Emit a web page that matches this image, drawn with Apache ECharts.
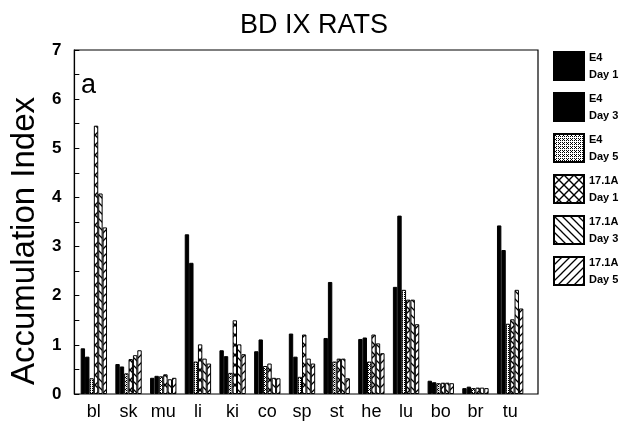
<!DOCTYPE html>
<html>
<head>
<meta charset="utf-8">
<script src="https://cdn.jsdelivr.net/npm/echarts@6/dist/echarts.min.js"></script>
<style>
  html, body { margin: 0; padding: 0; background: #fff; }
  #chart { width: 623px; height: 426px; }
</style>
</head>
<body>
<div id="chart"></div>
<script>
// organs on the x axis
var organs = ['bl', 'sk', 'mu', 'li', 'ki', 'co', 'sp', 'st', 'he', 'lu', 'bo', 'br', 'tu'];

// accumulation index per organ, one array per antibody / day
var e4Day1 = [0.93, 0.61, 0.33, 3.25, 0.89, 0.87, 1.23, 1.14, 1.12, 2.18, 0.27, 0.12, 3.43];
var e4Day3 = [0.76, 0.56, 0.37, 2.67, 0.77, 1.11, 0.76, 2.28, 1.15, 3.63, 0.24, 0.15, 2.93];
var e4Day5 = [0.32, 0.42, 0.36, 0.66, 0.43, 0.57, 0.35, 0.66, 0.66, 2.12, 0.22, 0.12, 1.43];
var a171Day1 = [5.46, 0.71, 0.40, 1.01, 1.50, 0.62, 1.21, 0.72, 1.21, 1.92, 0.23, 0.13, 1.52];
var a171Day3 = [4.08, 0.79, 0.30, 0.72, 1.01, 0.33, 0.72, 0.72, 1.03, 1.92, 0.23, 0.13, 2.12];
var a171Day5 = [3.39, 0.89, 0.33, 0.62, 0.81, 0.32, 0.62, 0.32, 0.83, 1.42, 0.22, 0.12, 1.74];

var seriesNames = ['E4 Day 1', 'E4 Day 3', 'E4 Day 5', '17.1A Day 1', '17.1A Day 3', '17.1A Day 5'];
var yTicks = [0, 1, 2, 3, 4, 5, 6, 7];

// small canvases used as fill patterns
function makePattern(size, draw) {
    var c = document.createElement('canvas');
    c.width = size;
    c.height = size;
    var ctx = c.getContext('2d');
    ctx.fillStyle = '#fff';
    ctx.fillRect(0, 0, size, size);
    ctx.strokeStyle = '#000';
    ctx.fillStyle = '#000';
    draw(ctx, size);
    return { image: c, repeat: 'repeat' };
}

var stipple = makePattern(4, function (ctx) {
    ctx.fillRect(0, 0, 1, 1);
    ctx.fillRect(2, 2, 1, 1);
    ctx.fillRect(2, 0, 1, 1);
    ctx.fillRect(0, 2, 1, 1);
    ctx.fillRect(1, 1, 1, 1);
});
var crossHatch = makePattern(10, function (ctx, s) {
    ctx.lineWidth = 1.4;
    ctx.beginPath();
    ctx.moveTo(0, 0); ctx.lineTo(s, s);
    ctx.moveTo(s, 0); ctx.lineTo(0, s);
    ctx.stroke();
});
var backSlash = makePattern(8, function (ctx, s) {
    ctx.lineWidth = 1.3;
    ctx.beginPath();
    ctx.moveTo(-1, -1); ctx.lineTo(s + 1, s + 1);
    ctx.moveTo(-1, s - 1); ctx.lineTo(1, s + 1);
    ctx.moveTo(s - 1, -1); ctx.lineTo(s + 1, 1);
    ctx.stroke();
});
var slash = makePattern(8, function (ctx, s) {
    ctx.lineWidth = 1.3;
    ctx.beginPath();
    ctx.moveTo(-1, s + 1); ctx.lineTo(s + 1, -1);
    ctx.moveTo(-1, 1); ctx.lineTo(1, -1);
    ctx.moveTo(s - 1, s + 1); ctx.lineTo(s + 1, s - 1);
    ctx.stroke();
});

var fills = ['#000', '#000', stipple, crossHatch, backSlash, slash];
var values = [e4Day1, e4Day3, e4Day5, a171Day1, a171Day3, a171Day5];

var font = 'Liberation Sans, Arial, Helvetica, sans-serif';

var series = values.map(function (v, i) {
    return {
        name: seriesNames[i],
        type: 'bar',
        xAxisIndex: 1,
        yAxisIndex: 1,
        data: v,
        barGap: '0%',
        barCategoryGap: '24%',
        itemStyle: { color: fills[i], borderColor: '#000', borderWidth: 1 }
    };
});

var chart = echarts.init(document.getElementById('chart'));

var option = {
    animation: false,
    backgroundColor: '#fff',
    title: [{
        text: 'BD IX RATS',
        left: 309,
        top: 7,
        textAlign: 'center',
        textStyle: { fontFamily: font, fontSize: 27, fontWeight: 'normal', color: '#000' }
    }, {
        text: 'a',
        left: 76,
        top: 67,
        textStyle: { fontFamily: font, fontSize: 27, fontWeight: 'normal', color: '#000' }
    }],
    legend: {
        orient: 'vertical',
        left: 548,
        top: 44,
        itemWidth: 30,
        itemHeight: 28,
        itemGap: 7,
        icon: 'rect',
        data: seriesNames,
        formatter: function (name) {
            var k = name.lastIndexOf(' Day');
            return name.slice(0, k) + '\n' + name.slice(k + 1);
        },
        textStyle: { fontFamily: font, fontSize: 11, fontWeight: 'bold', color: '#000', lineHeight: 17 }
    },
    // grid 0 is the framed box carrying the y axis, grid 1 holds the bars
    grid: [{
        left: 67, right: 85, top: 50, bottom: 32,
        show: true, borderColor: '#000', borderWidth: 1.2
    }, {
        left: 76.5, right: 95.5, top: 50, bottom: 32
    }],
    xAxis: [{
        gridIndex: 0, type: 'value', min: 0, max: 1, show: false
    }, {
        gridIndex: 1,
        type: 'category',
        data: organs,
        axisLine: { show: false },
        axisTick: { show: false },
        axisLabel: { interval: 0, fontFamily: font, fontSize: 18, color: '#000', margin: 9 }
    }],
    yAxis: [{
        gridIndex: 0,
        type: 'value',
        min: 0,
        max: 7,
        interval: 1,
        name: 'Accumulation Index',
        nameLocation: 'middle',
        nameGap: 28,
        nameTextStyle: { fontFamily: font, fontSize: 33, color: '#000', padding: [0, 38, 0, 0] },
        axisLine: { show: true, lineStyle: { color: '#000', width: 1.2 } },
        axisTick: { show: true, inside: true, length: 5, lineStyle: { color: '#000' } },
        minorTick: { show: true, splitNumber: 2, length: 5, lineStyle: { color: '#000' } },
        splitLine: { show: false },
        axisLabel: {
            fontFamily: font, fontSize: 17, fontWeight: 'bold', color: '#000', margin: 13,
            formatter: function (v) { return yTicks.indexOf(v) >= 0 ? String(v) : ''; }
        }
    }, {
        gridIndex: 1,
        type: 'value',
        min: 0,
        max: 7,
        show: false,
        splitLine: { show: false }
    }],
    series: series
};

chart.setOption(option);
</script>
</body>
</html>
